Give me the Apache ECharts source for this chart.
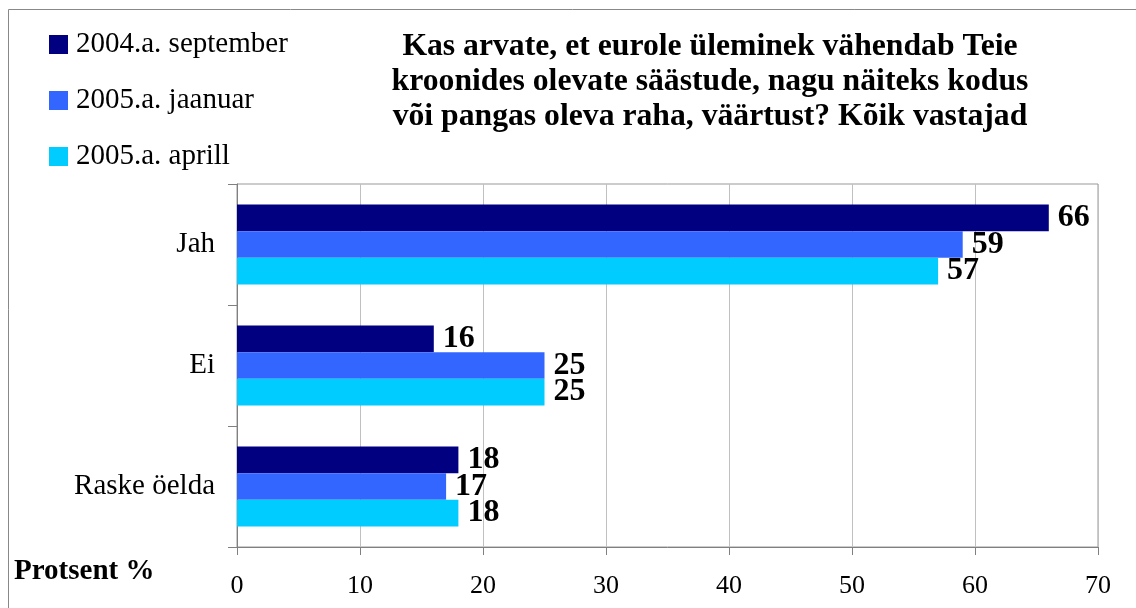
<!DOCTYPE html>
<html><head><meta charset="utf-8">
<script src="https://cdn.jsdelivr.net/npm/echarts@6/dist/echarts.min.js"></script>
<style>html,body{margin:0;padding:0;background:#fff}#c{width:1136px;height:608px}</style>
</head><body><div id="c"></div>
<script>
const categories = ['Jah', 'Ei', 'Raske öelda'];
const seriesNames = ['2004.a. september', '2005.a. jaanuar', '2005.a. aprill'];
const sept2004 = [66, 16, 18];
const jan2005 = [59, 25, 17];
const apr2005 = [57, 25, 18];
const xTicks = [0, 10, 20, 30, 40, 50, 60, 70];
const titleLines = ['Kas arvate, et eurole üleminek vähendab Teie', 'kroonides olevate säästude, nagu näiteks kodus', 'või pangas oleva raha, väärtust? Kõik vastajad'];
const colors = ['#000080', '#3366FF', '#00CCFF'];
const serif = '"Liberation Serif", "DejaVu Serif", serif';

const chart = echarts.init(document.getElementById('c'), null, {renderer: 'canvas'});
const values = [sept2004, jan2005, apr2005];
chart.setOption({
  animation: false,
  color: colors,
  title: {
    text: titleLines.join('\n'),
    left: 705, top: 24, textAlign: 'center',
    textStyle: {fontFamily: serif, fontWeight: 'bold', fontSize: 31.7, lineHeight: 35, color: '#000'}
  },
  legend: {
    orient: 'vertical', left: 49, top: 30, padding: 0,
    itemWidth: 19, itemHeight: 19, itemGap: 27, icon: 'rect',
    textStyle: {fontFamily: serif, fontSize: 29, lineHeight: 29, color: '#000', padding: [0, 0, 0, 3]},
    data: seriesNames
  },
  grid: {left: 237, right: 38, top: 184, bottom: 61, show: true, borderColor: '#999', borderWidth: 1},
  xAxis: {
    type: 'value', min: 0, max: 70, interval: 10,
    axisLine: {show: true, lineStyle: {color: '#808080'}},
    axisTick: {show: true, length: 8, lineStyle: {color: '#808080'}},
    splitLine: {show: true, lineStyle: {color: '#c0c0c0'}},
    axisLabel: {fontFamily: serif, fontSize: 26, color: '#000', margin: 26,
      formatter: v => xTicks.includes(v) ? String(v) : ''}
  },
  yAxis: {
    type: 'category', inverse: true, data: categories,
    axisLine: {show: true, lineStyle: {color: '#808080'}},
    axisTick: {show: true, length: 9, lineStyle: {color: '#808080'}},
    axisLabel: {fontFamily: serif, fontSize: 29, color: '#000', margin: 22}
  },
  series: seriesNames.map((n, i) => ({
    name: n, type: 'bar', data: values[i],
    barGap: '0%', barCategoryGap: '34%',
    label: {show: true, position: 'right', distance: 9, fontFamily: serif, fontWeight: 'bold', fontSize: 32, color: '#000'}
  })),
  graphic: [
    {type: 'rect', shape: {x: 8.5, y: 9.5, width: 1200, height: 700}, style: {fill: 'none', stroke: '#888', lineWidth: 1}, z: -1},
    {type: 'text', left: 14, top: 557, style: {text: 'Protsent %', font: 'bold 29px "Liberation Serif"', fill: '#000'}}
  ]
});
</script></body></html>
